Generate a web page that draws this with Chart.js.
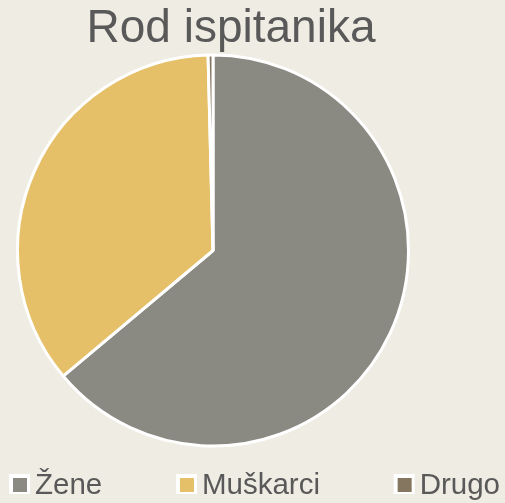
<!DOCTYPE html>
<html>
<head>
<meta charset="utf-8">
<script src="https://cdn.jsdelivr.net/npm/chart.js@4"></script>
<style>
html,body{margin:0;padding:0;background:#EEECE3;}
#wrap{width:505px;height:503px;position:relative;}
</style>
</head>
<body>
<div id="wrap"><canvas id="c" width="505" height="503"></canvas></div>
<script>
const categories = ["Žene", "Muškarci", "Drugo"];
const values = [63.9, 35.7, 0.4];
const colors = ["#8A8A82", "#E6C068", "#857660"];
const titleText = "Rod ispitanika";

const textColor = '#595959';
const fontFam = '"Liberation Sans", Arial, sans-serif';

const customDecor = {
  id: 'customDecor',
  afterDraw(chart) {
    const ctx = chart.ctx;
    ctx.save();
    // title
    ctx.fillStyle = textColor;
    ctx.font = '46px ' + fontFam;
    ctx.textAlign = 'center';
    ctx.textBaseline = 'alphabetic';
    ctx.fillText(titleText, 231, 42);
    // legend
    ctx.font = '29.5px ' + fontFam;
    ctx.textAlign = 'left';
    const labels = chart.data.labels;
    const bg = chart.data.datasets[0].backgroundColor;
    const box = 21, gapText = 5, left = 9, right = 500;
    const widths = labels.map(l => box + gapText + ctx.measureText(l).width);
    const total = widths.reduce((a, b) => a + b, 0);
    const gap = (right - left - total) / (labels.length - 1);
    let x = left;
    labels.forEach((l, i) => {
      ctx.fillStyle = '#FFFFFF';
      ctx.fillRect(x, 474, box, box - 1);
      ctx.fillStyle = bg[i];
      ctx.fillRect(x + 4, 478, box - 7, box - 7);
      ctx.fillStyle = textColor;
      ctx.fillText(l, x + box + gapText, 494);
      x += widths[i] + gap;
    });
    ctx.restore();
  }
};

new Chart(document.getElementById('c'), {
  type: 'pie',
  data: {
    labels: categories,
    datasets: [{
      data: values,
      backgroundColor: colors,
      borderColor: '#FFFFFF',
      borderWidth: 3
    }]
  },
  options: {
    responsive: false,
    animation: false,
    layout: { padding: { left: 16, right: 95, top: 53, bottom: 55 } },
    plugins: {
      title: { display: false },
      legend: { display: false },
      tooltip: { enabled: false }
    }
  },
  plugins: [customDecor]
});
</script>
</body>
</html>
